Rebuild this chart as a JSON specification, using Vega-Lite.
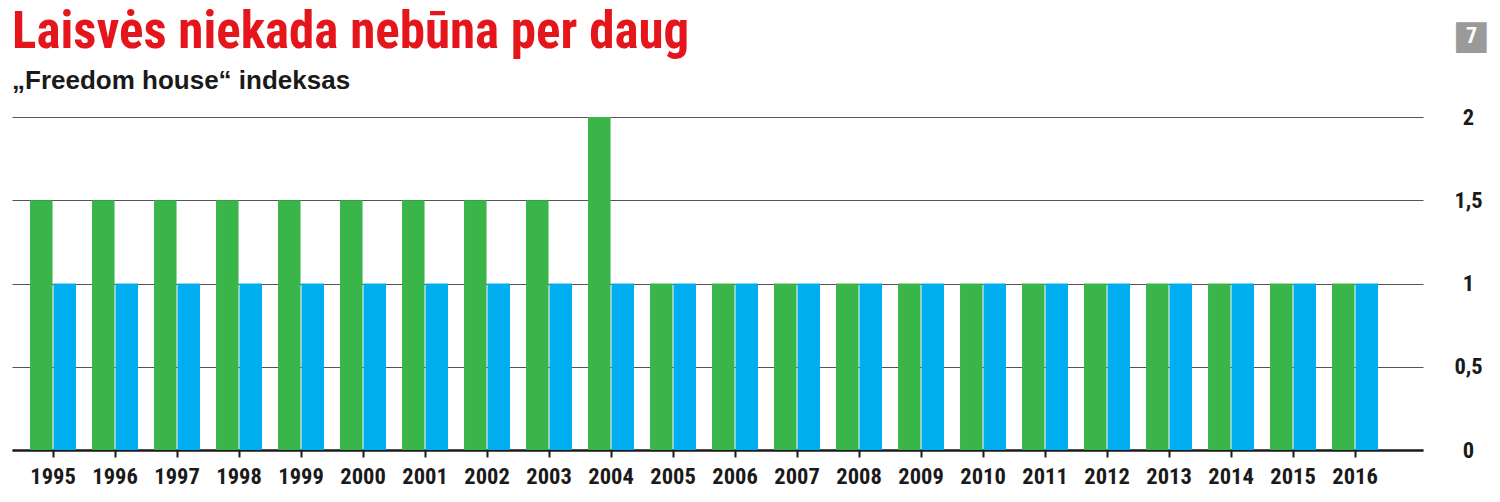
{
  "$schema": "https://vega.github.io/schema/vega-lite/v6.json",
  "autosize": {"type": "none"},
  "padding": {"left": 12, "top": 117, "right": 77, "bottom": 52},
  "width": 1411,
  "height": 333,
  "background": "white",
  "title": {
    "text": "Laisvės niekada nebūna per daug",
    "subtitle": "„Freedom house“ indeksas",
    "anchor": "start",
    "frame": "group",
    "font": "Roboto Condensed",
    "fontSize": 51,
    "fontWeight": "bold",
    "color": "#e4151b",
    "subtitleFont": "Liberation Sans",
    "subtitleFontSize": 26,
    "subtitleFontWeight": "bold",
    "subtitleColor": "#1a1a1a",
    "subtitlePadding": 9,
    "offset": -80,
    "dx": 0
  },
  "data": {
    "values": [
      {"year": "1995", "series": "A", "value": 1.5}, {"year": "1995", "series": "B", "value": 1},
      {"year": "1996", "series": "A", "value": 1.5}, {"year": "1996", "series": "B", "value": 1},
      {"year": "1997", "series": "A", "value": 1.5}, {"year": "1997", "series": "B", "value": 1},
      {"year": "1998", "series": "A", "value": 1.5}, {"year": "1998", "series": "B", "value": 1},
      {"year": "1999", "series": "A", "value": 1.5}, {"year": "1999", "series": "B", "value": 1},
      {"year": "2000", "series": "A", "value": 1.5}, {"year": "2000", "series": "B", "value": 1},
      {"year": "2001", "series": "A", "value": 1.5}, {"year": "2001", "series": "B", "value": 1},
      {"year": "2002", "series": "A", "value": 1.5}, {"year": "2002", "series": "B", "value": 1},
      {"year": "2003", "series": "A", "value": 1.5}, {"year": "2003", "series": "B", "value": 1},
      {"year": "2004", "series": "A", "value": 2}, {"year": "2004", "series": "B", "value": 1},
      {"year": "2005", "series": "A", "value": 1}, {"year": "2005", "series": "B", "value": 1},
      {"year": "2006", "series": "A", "value": 1}, {"year": "2006", "series": "B", "value": 1},
      {"year": "2007", "series": "A", "value": 1}, {"year": "2007", "series": "B", "value": 1},
      {"year": "2008", "series": "A", "value": 1}, {"year": "2008", "series": "B", "value": 1},
      {"year": "2009", "series": "A", "value": 1}, {"year": "2009", "series": "B", "value": 1},
      {"year": "2010", "series": "A", "value": 1}, {"year": "2010", "series": "B", "value": 1},
      {"year": "2011", "series": "A", "value": 1}, {"year": "2011", "series": "B", "value": 1},
      {"year": "2012", "series": "A", "value": 1}, {"year": "2012", "series": "B", "value": 1},
      {"year": "2013", "series": "A", "value": 1}, {"year": "2013", "series": "B", "value": 1},
      {"year": "2014", "series": "A", "value": 1}, {"year": "2014", "series": "B", "value": 1},
      {"year": "2015", "series": "A", "value": 1}, {"year": "2015", "series": "B", "value": 1},
      {"year": "2016", "series": "A", "value": 1}, {"year": "2016", "series": "B", "value": 1}
    ]
  },
  "mark": {"type": "bar"},
  "encoding": {
    "x": {
      "field": "year",
      "type": "nominal",
      "scale": {"paddingInner": 0.258, "paddingOuter": 0.508, "align": 0.286},
      "axis": {
        "title": "■",
        "titleFont": "DejaVu Sans",
        "titleFontSize": 40,
        "titleFontWeight": "normal",
        "titleColor": "#9a9a9a",
        "titleX": 1459,
        "titleY": -415,
        "titleAlign": "center",
        "titleBaseline": "middle",
        "titleAngle": 0,
        "labelAngle": 0,
        "labelFont": "Roboto Condensed",
        "labelFontSize": 22.5,
        "labelFontWeight": "bold",
        "labelColor": "#1a1a1a",
        "labelPadding": 8,
        "domainColor": "#1a1a1a",
        "domainWidth": 2.5,
        "tickColor": "#1a1a1a",
        "tickWidth": 2,
        "tickSize": 7,
        "grid": false
      }
    },
    "xOffset": {
      "field": "series",
      "type": "nominal",
      "sort": ["A", "B"],
      "scale": {"paddingInner": 0.04}
    },
    "y": {
      "field": "value",
      "type": "quantitative",
      "scale": {"domain": [0, 2], "nice": false},
      "axis": {
        "orient": "right",
        "values": [0, 0.5, 1, 1.5, 2],
        "labelExpr": "replace(toString(datum.value), '.', ',')",
        "labelAlign": "center",
        "labelBaseline": "middle",
        "labelPadding": 45,
        "labelFont": "Roboto Condensed",
        "labelFontSize": 22.5,
        "labelFontWeight": "bold",
        "labelColor": "#1a1a1a",
        "ticks": false,
        "tickSize": 0,
        "domain": false,
        "grid": true,
        "gridColor": "#555555",
        "gridWidth": 1,
        "title": "7",
        "titleAngle": 0,
        "titleX": 48,
        "titleY": -81.5,
        "titleFont": "Roboto Condensed",
        "titleFontSize": 22,
        "titleFontWeight": "bold",
        "titleColor": "#ffffff",
        "titleAlign": "center",
        "titleBaseline": "middle"
      }
    },
    "color": {
      "field": "series",
      "type": "nominal",
      "scale": {"domain": ["A", "B"], "range": ["#3ab54a", "#00aeef"]},
      "legend": null
    }
  },
  "config": {
    "view": {"stroke": null},
    "axis": {"zindex": 0}
  }
}
